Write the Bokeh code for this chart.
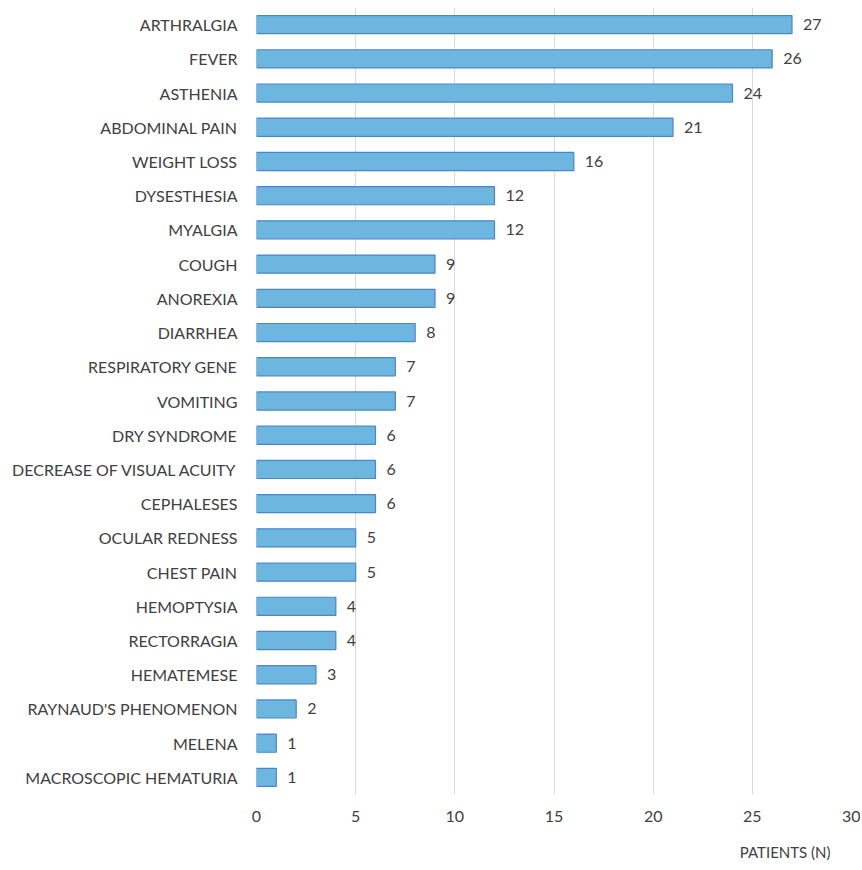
from bokeh.plotting import figure
from bokeh.models import ColumnDataSource, FactorRange, Range1d, Title, FixedTicker
from bokeh.core.properties import value
from bokeh.embed import file_html
from bokeh.resources import INLINE

symptoms = ["ARTHRALGIA", "FEVER", "ASTHENIA", "ABDOMINAL PAIN", "WEIGHT LOSS",
            "DYSESTHESIA", "MYALGIA", "COUGH", "ANOREXIA", "DIARRHEA",
            "RESPIRATORY GENE", "VOMITING", "DRY SYNDROME", "DECREASE OF VISUAL ACUITY",
            "CEPHALESES", "OCULAR REDNESS", "CHEST PAIN", "HEMOPTYSIA", "RECTORRAGIA",
            "HEMATEMESE", "RAYNAUD'S PHENOMENON", "MELENA", "MACROSCOPIC HEMATURIA"]
patients = [27, 26, 24, 21, 16, 12, 12, 9, 9, 8, 7, 7, 6, 6, 6, 5, 5, 4, 4, 3, 2, 1, 1]
x_ticks = [0, 5, 10, 15, 20, 25, 30]

FONT = "Lato"
TXT = "#404040"
FS = "16px"

src = ColumnDataSource(dict(sym=symptoms, n=patients, lab=[str(v) for v in patients]))

p = figure(frame_width=595, frame_height=787, output_backend="svg", toolbar_location=None,
           y_range=FactorRange(*reversed(symptoms), range_padding=0),
           x_range=Range1d(0, 30),
           min_border_left=256, min_border_right=9, min_border_top=7, min_border_bottom=0)

p.hbar(y="sym", right="n", left=0, height=0.53, source=src,
       fill_color="#6db6e0", line_color="#4a86c5", line_width=1.2)

p.text(x="n", y="sym", text="lab", source=src, x_offset=11,
       text_baseline="middle", text_align="left",
       text_font=value(FONT), text_font_size=FS, text_color=TXT)

p.xaxis.ticker = FixedTicker(ticks=x_ticks)
p.xaxis.axis_line_color = None
p.xaxis.major_tick_line_color = None
p.xaxis.minor_tick_line_color = None
p.xaxis.major_label_standoff = 10
p.xaxis.major_label_text_font = FONT
p.xaxis.major_label_text_font_size = FS
p.xaxis.major_label_text_color = TXT

p.yaxis.axis_line_color = None
p.yaxis.major_tick_line_color = None
p.yaxis.minor_tick_line_color = None
p.yaxis.major_label_standoff = 13
p.yaxis.major_label_text_font = FONT
p.yaxis.major_label_text_font_size = FS
p.yaxis.major_label_text_color = TXT

p.ygrid.grid_line_color = None
p.xgrid.grid_line_color = "#d9d9d9"
p.outline_line_color = None

t = Title(text="PATIENTS (N)", align="right", offset=21, standoff=33,
          text_font=FONT, text_font_size="15px", text_font_style="normal", text_color=TXT)
p.add_layout(t, "below")

open("out.html", "w").write(file_html(p, INLINE))
